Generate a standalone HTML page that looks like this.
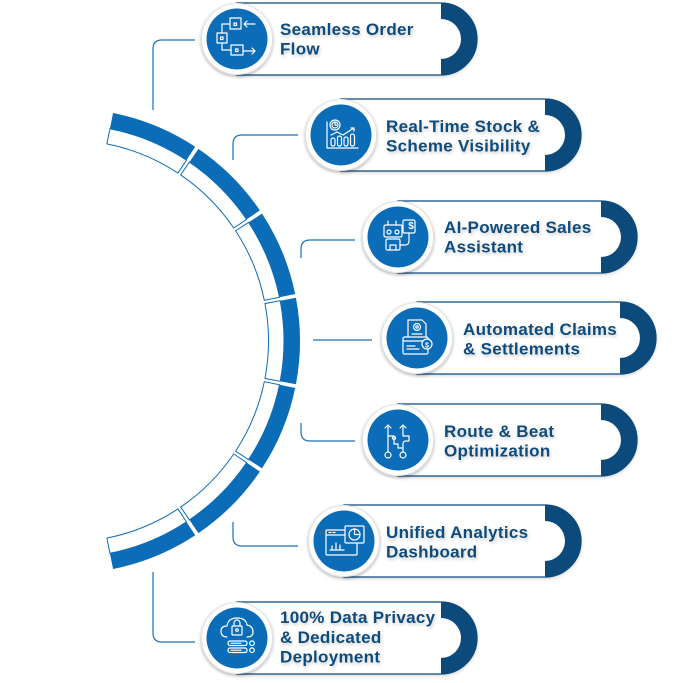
<!DOCTYPE html>
<html><head><meta charset="utf-8"><style>
html,body{margin:0;padding:0;background:#fff;}
svg{display:block;}
text{font-family:"Liberation Sans",Arial,sans-serif;font-weight:bold;font-size:17px;fill:#114b7d;letter-spacing:0.3px;}
</style></head><body>
<svg width="690" height="683" viewBox="0 0 690 683" xmlns="http://www.w3.org/2000/svg">
<defs>
<filter id="ts" x="-10%" y="-30%" width="130%" height="180%"><feDropShadow dx="1" dy="2" stdDeviation="1.5" flood-color="#000" flood-opacity="0.2"/></filter>
<filter id="cs" x="-20%" y="-20%" width="140%" height="140%"><feDropShadow dx="0" dy="1.5" stdDeviation="1.6" flood-color="#000" flood-opacity="0.3"/></filter>
<filter id="ks" x="-5%" y="-20%" width="110%" height="150%"><feDropShadow dx="0" dy="1.5" stdDeviation="1.5" flood-color="#000" flood-opacity="0.15"/></filter>
</defs>

<!-- arc segments -->
<g fill="#0b6cb7">
<path d="M113.06,113.01 A232.5,232.5 0 0 1 195.24,146.75 L186.45,160.12 A216.5,216.5 0 0 0 109.92,128.70 Z"/>
<path d="M198.42,148.87 A232.5,232.5 0 0 1 259.86,210.42 L246.62,219.40 A216.5,216.5 0 0 0 189.41,162.09 Z"/>
<path d="M261.98,213.59 A232.5,232.5 0 0 1 295.19,293.97 L279.52,297.21 A216.5,216.5 0 0 0 248.59,222.36 Z"/>
<path d="M295.93,297.71 A232.5,232.5 0 0 1 295.93,384.29 L280.21,381.31 A216.5,216.5 0 0 0 280.21,300.69 Z"/>
<path d="M295.19,388.03 A232.5,232.5 0 0 1 261.98,468.41 L248.59,459.64 A216.5,216.5 0 0 0 279.52,384.79 Z"/>
<path d="M259.86,471.58 A232.5,232.5 0 0 1 198.42,533.13 L189.41,519.91 A216.5,216.5 0 0 0 246.62,462.60 Z"/>
<path d="M195.24,535.25 A232.5,232.5 0 0 1 113.06,568.99 L109.92,553.30 A216.5,216.5 0 0 0 186.45,521.88 Z"/>
</g>
<g fill="#fff" stroke="#0b6cb7" stroke-width="1">
<path d="M109.92,128.70 A216.5,216.5 0 0 1 186.45,160.12 L177.94,173.07 A201,201 0 0 0 106.87,143.90 Z"/>
<path d="M189.41,162.09 A216.5,216.5 0 0 1 246.62,219.40 L233.80,228.11 A201,201 0 0 0 180.68,174.90 Z"/>
<path d="M248.59,222.36 A216.5,216.5 0 0 1 279.52,297.21 L264.34,300.34 A201,201 0 0 0 235.63,230.85 Z"/>
<path d="M280.21,300.69 A216.5,216.5 0 0 1 280.21,381.31 L264.98,378.42 A201,201 0 0 0 264.98,303.58 Z"/>
<path d="M279.52,384.79 A216.5,216.5 0 0 1 248.59,459.64 L235.63,451.15 A201,201 0 0 0 264.34,381.66 Z"/>
<path d="M246.62,462.60 A216.5,216.5 0 0 1 189.41,519.91 L180.68,507.10 A201,201 0 0 0 233.80,453.89 Z"/>
<path d="M186.45,521.88 A216.5,216.5 0 0 1 109.92,553.30 L106.87,538.10 A201,201 0 0 0 177.94,508.93 Z"/>
</g>

<!-- connectors -->
<g fill="none" stroke="#1c6fb8" stroke-width="1.2">
<path d="M153,110 V49 Q153,40 162,40 H195"/>
<path d="M233,160 V144 Q233,135 242,135 H298"/>
<path d="M301,258 V249 Q301,240 310,240 H355"/>
<path d="M313,340 H372"/>
<path d="M301,423 V432 Q301,441 310,441 H355"/>
<path d="M233,522 V537 Q233,546 242,546 H298"/>
<path d="M153,572 V633 Q153,642 162,642 H195"/>
</g>

<!-- cards -->
<g fill="#fff" stroke="#0d4a7c" stroke-width="1.3" filter="url(#ks)">
<path d="M237,3 H441 A36,36 0 0 1 441,75 H237 Z"/>
<path d="M341,99 H545 A36,36 0 0 1 545,171 H341 Z"/>
<path d="M398,201 H601 A36,36 0 0 1 601,273 H398 Z"/>
<path d="M417,302 H620 A36,36 0 0 1 620,374 H417 Z"/>
<path d="M398,404 H601 A36,36 0 0 1 601,476 H398 Z"/>
<path d="M344,505 H545 A36,36 0 0 1 545,577 H344 Z"/>
<path d="M237,602 H441 A36,36 0 0 1 441,674 H237 Z"/>
</g>
<g fill="#0c4a7c">
<path d="M441,3 A36,36 0 0 1 441,75 V59 A20,20 0 0 0 441,19 Z"/>
<path d="M545,99 A36,36 0 0 1 545,171 V155 A20,20 0 0 0 545,115 Z"/>
<path d="M601,201 A36,36 0 0 1 601,273 V257 A20,20 0 0 0 601,217 Z"/>
<path d="M620,302 A36,36 0 0 1 620,374 V358 A20,20 0 0 0 620,318 Z"/>
<path d="M601,404 A36,36 0 0 1 601,476 V460 A20,20 0 0 0 601,420 Z"/>
<path d="M545,505 A36,36 0 0 1 545,577 V561 A20,20 0 0 0 545,521 Z"/>
<path d="M441,602 A36,36 0 0 1 441,674 V658 A20,20 0 0 0 441,618 Z"/>
</g>

<!-- circles -->
<g>
<circle cx="237" cy="39" r="35.5" fill="#fff" stroke="#e2e2e2" stroke-width="1" filter="url(#cs)"/>
<circle cx="237" cy="39" r="30.5" fill="#0b6cb7"/>
<circle cx="341" cy="135" r="35.5" fill="#fff" stroke="#e2e2e2" stroke-width="1" filter="url(#cs)"/>
<circle cx="341" cy="135" r="30.5" fill="#0b6cb7"/>
<circle cx="398" cy="237" r="35.5" fill="#fff" stroke="#e2e2e2" stroke-width="1" filter="url(#cs)"/>
<circle cx="398" cy="237" r="30.5" fill="#0b6cb7"/>
<circle cx="417" cy="338" r="35.5" fill="#fff" stroke="#e2e2e2" stroke-width="1" filter="url(#cs)"/>
<circle cx="417" cy="338" r="30.5" fill="#0b6cb7"/>
<circle cx="398" cy="440" r="35.5" fill="#fff" stroke="#e2e2e2" stroke-width="1" filter="url(#cs)"/>
<circle cx="398" cy="440" r="30.5" fill="#0b6cb7"/>
<circle cx="344" cy="541" r="35.5" fill="#fff" stroke="#e2e2e2" stroke-width="1" filter="url(#cs)"/>
<circle cx="344" cy="541" r="30.5" fill="#0b6cb7"/>
<circle cx="237" cy="638" r="35.5" fill="#fff" stroke="#e2e2e2" stroke-width="1" filter="url(#cs)"/>
<circle cx="237" cy="638" r="30.5" fill="#0b6cb7"/>
</g>

<!-- icons -->
<g fill="none" stroke="#fff" stroke-width="1.2" stroke-linejoin="round" stroke-linecap="round">
<g transform="translate(237,38)">
<rect x="-7" y="-20" width="11" height="11"/><rect x="-3" y="-15" width="2.5" height="2.5"/>
<rect x="-20" y="-5" width="10" height="10"/><rect x="-16.5" y="-1" width="2.5" height="2.5"/>
<rect x="-6" y="7" width="12" height="10"/><rect x="-1.5" y="11" width="2.5" height="2.5"/>
<path d="M18,-14 H7 M10,-17 L7,-14 L10,-11"/>
<path d="M7,13 H18 M15,10 L18,13 L15,16"/>
<path d="M-7,-14 H-15 V-5"/>
<path d="M-15,5 V12 H-6"/>
</g>
<g transform="translate(341,135)">
<path d="M-14,-13 V13 H17"/>
<circle cx="-6" cy="-10" r="5"/><circle cx="-6" cy="-10" r="3"/><path d="M-6,-12 V-10 H-4.5"/>
<path d="M-10,0 L-4,-3 L2,0 L13,-7 M10,-7 H13 V-4"/>
<rect x="-10" y="3" width="4" height="8" rx="2"/>
<rect x="-3.5" y="1" width="4" height="10" rx="2"/>
<rect x="3" y="2" width="4" height="9" rx="2"/>
<rect x="9.5" y="-1" width="4" height="12" rx="2"/>
</g>
<g transform="translate(398,237)">
<rect x="-14" y="-12" width="18" height="12" rx="1.5"/>
<circle cx="-9" cy="-5" r="2"/><circle cx="-1" cy="-5" r="2"/>
<path d="M-10,-12 V-16 M-2,-12 V-16"/>
<rect x="-12" y="2" width="14" height="11" rx="1.5"/>
<path d="M-8,13 V8 H-2 V13"/>
<rect x="5" y="-17" width="12" height="13" rx="1.5"/>
<path d="M11,-4 V4 Q11,8 7,8 H2"/>
</g>
<g transform="translate(417,338)">
<path d="M-9,-1 V-18 H5 L9,-14 V-1"/>
<circle cx="0" cy="-11" r="3.5"/><circle cx="0" cy="-11" r="1.2"/>
<path d="M-5,-4 H5"/>
<rect x="-14" y="-1" width="25" height="17" rx="1.5"/>
<path d="M-14,3 H11 M-10,8 H-2 M-10,11 H2"/>
<circle cx="10" cy="6" r="5" fill="#0b6cb7"/>
</g>
<g transform="translate(398,440)">
<path d="M-10,12 V-15 M-13,-12 L-10,-15 L-7,-12"/>
<path d="M5,12 V4 Q5,1 8,1 H11 V-4 H5 V-15 M2,-12 L5,-15 L8,-12"/>
<path d="M-10,-4 H-4 V4 H0 V8 H5"/>
<circle cx="-4" cy="-2" r="1.6"/>
<circle cx="-10" cy="15" r="3"/><circle cx="5" cy="15" r="3"/>
</g>
<g transform="translate(344,541)">
<rect x="-18" y="-11" width="31" height="25" rx="1"/>
<path d="M-18,-6 H1"/>
<path d="M-15,-8.5 H-13 M-11,-8.5 H-9"/>
<rect x="1" y="-15" width="19" height="17" rx="1" fill="#0b6cb7"/>
<circle cx="10.5" cy="-6.5" r="5.5"/><path d="M10.5,-12 V-6.5 H16"/>
<path d="M-12,9 V5 M-8,9 V2 M-4,9 V4 M-14,9 H0"/>
</g>
<g transform="translate(237,638)">
<path d="M-10,-1 Q-16,-1 -16,-7 Q-16,-12 -10,-12 Q-9,-20 0,-20 Q9,-20 10,-13 Q16,-12 16,-6 Q16,-1 10,-1"/>
<rect x="-5" y="-12" width="10" height="9" rx="1"/>
<path d="M-3,-12 V-15 A3,3 0 0 1 3,-15 V-12"/>
<circle cx="0" cy="-8" r="1.3"/>
<rect x="-9" y="3" width="19" height="4.5" rx="2"/>
<rect x="-9" y="10" width="19" height="4.5" rx="2"/>
<path d="M-6,5.2 H4 M-6,12.2 H4"/>
<circle cx="15" cy="5.2" r="2.3"/><circle cx="15" cy="12.2" r="2.3"/>
</g>
</g>
<g style="font-family:'Liberation Sans',sans-serif;font-weight:bold;fill:#fff;letter-spacing:0">
<text x="411" y="-8" transform="translate(0,237)" style="fill:#fff;font-size:10px;letter-spacing:0" text-anchor="middle">$</text>
<text x="427" y="347.5" style="fill:#fff;font-size:7px;letter-spacing:0" text-anchor="middle">$</text>
</g>

<!-- labels -->
<g filter="url(#ts)">
<text x="280" y="35">Seamless Order</text>
<text x="280" y="54.5">Flow</text>
<text x="386" y="132">Real-Time Stock &amp;</text>
<text x="386" y="151.5">Scheme Visibility</text>
<text x="444" y="233">AI-Powered Sales</text>
<text x="444" y="252.5">Assistant</text>
<text x="463" y="335">Automated Claims</text>
<text x="463" y="354.5">&amp; Settlements</text>
<text x="444" y="437">Route &amp; Beat</text>
<text x="444" y="456.5">Optimization</text>
<text x="386" y="538">Unified Analytics</text>
<text x="386" y="557.5">Dashboard</text>
<text x="280" y="623">100% Data Privacy</text>
<text x="280" y="643">&amp; Dedicated</text>
<text x="280" y="662.5">Deployment</text>
</g>
</svg>
</body></html>
